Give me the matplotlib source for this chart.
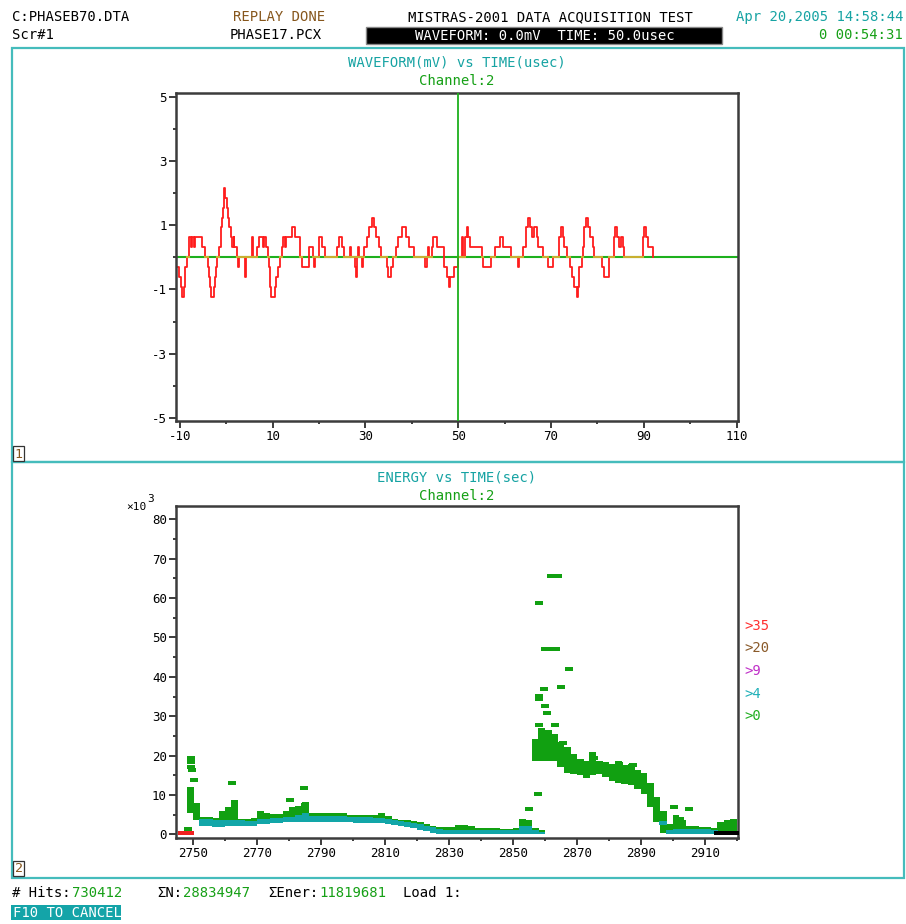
import numpy as np
import matplotlib
matplotlib.use("Agg")
import matplotlib.pyplot as plt
from matplotlib.patches import Rectangle

W, H = 906, 924
plt.rcParams["font.family"] = ["DejaVu Sans Mono", "DejaVu Sans"]
plt.rcParams["axes.unicode_minus"] = False

# ---- waveform (ch 2): step change points (usec) and ADC level (counts) ----
wave_t = [-10.4, -10.1, -9.8, -9.6, -9.0, -8.85, -8.5, -8.1, -7.9, -7.6, -7.4, -7.0, -6.8,
          -5.3, -4.5, -3.8, -3.6, -3.45, -3.3, -2.7, -2.5, -2.2, -1.9, -1.5, -1.2, -1.0,
          -0.8, -0.7, -0.55, -0.4, -0.2, 0.15, 0.5, 0.7, 1.1, 1.2, 1.6, 1.8, 2.3, 2.5, 2.8,
          4.0, 4.3, 5.5, 5.8, 6.6, 7.0, 7.9, 8.1, 8.6, 9.0, 9.2, 9.4, 9.5, 9.7, 10.45, 10.7,
          11.1, 11.6, 12.1, 12.3, 12.7, 13.0, 14.2, 14.9, 16.0, 16.35, 17.8, 18.7, 18.9,
          19.2, 19.95, 20.7, 21.4, 23.9, 24.3, 25.0, 25.35, 26.6, 27.0, 27.7, 27.9, 28.1,
          28.4, 28.6, 29.3, 29.6, 29.8, 30.4, 30.75, 31.5, 31.8, 32.2, 33.05, 33.3, 34.7,
          34.9, 35.6, 36.0, 36.5, 37.1, 38.0, 38.7, 39.4, 40.5, 42.8, 43.3, 43.5, 43.7,
          44.3, 44.6, 45.5, 47.0, 47.6, 48.0, 48.2, 49.2, 50.0, 50.75, 51.0, 51.5, 51.8,
          52.2, 52.5, 55.2, 55.4, 57.0, 57.9, 59.0, 59.7, 61.3, 62.8, 63.1, 64.0, 64.7,
          65.1, 65.4, 65.9, 66.4, 66.9, 67.3, 68.2, 69.3, 70.5, 71.8, 72.1, 72.5, 72.9,
          73.4, 74.1, 74.5, 75.0, 75.6, 75.9, 76.1, 76.6, 76.9, 77.2, 77.5, 77.9, 78.4,
          79.0, 79.3, 81.0, 81.5, 82.6, 83.5, 83.9, 84.2, 84.7, 85.1, 85.5, 85.8, 89.8,
          90.1, 90.5, 90.9, 92.0]
wave_lvl = [-1, -2, -3, -4, -3, -1, 0, 1, 2, 1, 2, 1, 2,
            1, 0, -1, -2, -3, -4, -3, -2, -1, 0, 1, 2, 3,
            4, 5, 6, 7, 6, 5, 4, 3, 2, 1, 2, 1, 0, -1, 0,
            -2, 0, 2, 0, 1, 2, 1, 2, 1, 0, -1, -2, -3, -4, -3, -2,
            -1, 0, 1, 2, 1, 2, 3, 2, 0, -1, 1, 0, -1,
            0, 2, 1, 0, 1, 2, 1, 0, 1, 0, -1, -2, 0,
            1, 0, -1, 0, 1, 2, 3, 4, 3, 2, 1, 0, -1,
            -2, -1, 0, 1, 2, 3, 2, 1, 0, -1, 0, 1, 0,
            1, 2, 1, -1, -2, -3, -2, -1, 0, 2, 0, 2, 3,
            2, 1, 0, -1, 0, 1, 2, 1, 0, -1, 0, 1, 3,
            4, 3, 2, 3, 2, 1, 0, -1, 0, 2, 3, 2, 1,
            0, -1, -2, -3, -4, -3, -1, 0, 1, 3, 4, 3, 2,
            1, 0, -1, -2, 0, 2, 3, 2, 1, 2, 1, 0, 2,
            3, 2, 1, 0]
mv_per_count = 0.31
cursor_usec = 50.0

# ---- energy vs time: band of hits near the floor (sec, x1000 energy) ----
low_t = [2749, 2751, 2753, 2755, 2757, 2759, 2761, 2763, 2765, 2767, 2769, 2771, 2773,
         2775, 2777, 2779, 2781, 2783, 2785, 2787, 2789, 2791, 2793, 2795, 2797, 2799,
         2801, 2803, 2805, 2807, 2809, 2811, 2813, 2815, 2817, 2819, 2821, 2823, 2825,
         2827, 2829, 2831, 2833, 2835, 2837, 2839, 2841, 2843, 2845, 2847, 2849, 2851,
         2853, 2855, 2857, 2859, 2899, 2901, 2903, 2905, 2907, 2909, 2911, 2913, 2915,
         2917, 2919]
grn_lo = [5.5, 3.5, 2.1, 2.0, 1.9, 1.9, 2.0, 2.0, 2.0, 2.0, 2.1, 2.5, 2.6,
          2.8, 2.8, 3.0, 3.0, 3.2, 3.2, 3.2, 3.2, 3.2, 3.2, 3.2, 3.2, 3.0,
          2.9, 2.9, 2.8, 2.8, 2.8, 2.7, 2.4, 2.1, 1.9, 1.5, 1.2, 0.8, 0.3,
          0.0, 0.0, 0.0, 0.0, 0.0, 0.0, 0.0, 0.0, 0.0, 0.0, 0.0, 0.0, 0.0,
          0.0, 0.0, 0.0, 0.0, 0.0, 0.0, 0.0, 0.0, 0.0, 0.0, 0.0, 0.0, 0.5,
          0.5, 0.5]
grn_hi = [12.0, 8.0, 4.5, 4.3, 4.1, 6.0, 7.0, 8.7, 4.0, 3.9, 4.2, 6.0, 5.4,
          5.2, 5.2, 5.8, 7.0, 7.2, 8.2, 5.3, 5.3, 5.3, 5.5, 5.5, 5.5, 4.9,
          4.9, 4.9, 4.9, 4.9, 5.3, 4.6, 3.9, 3.7, 3.6, 3.3, 3.1, 2.6, 2.2,
          1.8, 1.8, 1.8, 2.4, 2.4, 2.0, 1.5, 1.6, 1.5, 1.6, 1.4, 1.4, 1.6,
          3.9, 3.6, 1.5, 1.0, 2.7, 4.8, 3.5, 2.0, 2.0, 1.9, 1.9, 1.6, 3.0,
          3.6, 3.8]
teal_lo = [0.0, 0.0, 2.1, 2.0, 1.9, 1.9, 2.0, 2.0, 2.0, 2.0, 2.1, 2.5, 2.6,
           2.8, 2.8, 3.0, 3.0, 3.2, 3.2, 3.2, 3.2, 3.2, 3.2, 3.2, 3.2, 3.0,
           2.9, 2.9, 2.8, 2.8, 2.8, 2.7, 2.4, 2.1, 1.9, 1.5, 1.2, 0.8, 0.3,
           0.0, 0.0, 0.0, 0.0, 0.0, 0.0, 0.0, 0.0, 0.0, 0.0, 0.0, 0.0, 0.0,
           0.0, 0.0, 0.0, 0.0, 0.0, 0.0, 0.0, 0.0, 0.0, 0.0, 0.0, 0.0, 0.0,
           0.0, 0.0]
teal_hi = [0.0, 0.0, 3.9, 3.8, 3.6, 3.6, 3.6, 3.6, 3.5, 3.4, 3.4, 3.8, 3.9,
           4.1, 4.1, 4.3, 4.4, 5.0, 5.3, 4.6, 4.6, 4.6, 4.6, 4.6, 4.6, 4.3,
           4.3, 4.3, 4.3, 4.2, 4.2, 4.0, 3.5, 3.3, 3.2, 2.8, 2.6, 2.2, 1.8,
           1.3, 1.2, 1.1, 1.1, 1.1, 1.1, 1.1, 1.0, 1.0, 1.0, 1.0, 1.0, 1.0,
           2.2, 2.0, 1.0, 0.6, 1.0, 1.4, 1.4, 1.4, 1.4, 1.4, 1.4, 1.0, 0.0,
           0.0, 0.0]

# burst after ~2856 s
burst_t = [2857, 2859, 2861, 2863, 2865, 2867, 2869, 2871, 2873, 2875, 2877, 2879,
           2881, 2883, 2885, 2887, 2889, 2891, 2893, 2895, 2897]
burst_lo = [18.7, 18.7, 18.7, 18.7, 17.0, 15.5, 15.3, 15.0, 14.2, 15.0, 15.3, 14.5,
            13.5, 13.0, 12.8, 12.4, 11.5, 10.3, 6.9, 3.0, 0.2]
burst_hi = [24.2, 27.1, 26.5, 25.5, 23.5, 22.1, 20.5, 19.1, 18.5, 20.8, 18.5, 18.3,
            17.8, 18.7, 17.5, 17.9, 16.2, 15.5, 13.0, 9.5, 6.0]

# isolated hits
hit_t = [2749.3, 2749.3, 2749.3, 2749.6, 2750.3, 2748.5, 2762.2, 2780.3, 2784.6, 2785.0,
         2855.0, 2857.8, 2858.0, 2862.0, 2864.0, 2860.0, 2861.8, 2863.6, 2867.5, 2865.0,
         2859.7, 2858.0, 2858.0, 2860.0, 2860.6, 2858.0, 2863.0, 2865.8, 2875.3, 2883.2,
         2887.5, 2900.5, 2905.0, 2902.3]
hit_e = [19.5, 18.3, 17.0, 16.2, 13.8, 1.4, 13.0, 8.8, 11.7, 7.5,
         6.3, 10.2, 58.7, 65.5, 65.5, 47.0, 47.0, 47.0, 41.9, 37.5,
         37.0, 35.2, 34.3, 32.7, 30.7, 27.8, 27.8, 23.3, 19.5, 17.8,
         17.5, 6.8, 6.3, 3.8]
teal_hit_t = [2897.0]
teal_hit_e = [2.9]
red_hit_t = [2746.4, 2748.9]
red_hit_e = [0.3, 0.3]
blk_hit_t = [2914.3, 2916.3, 2918.3, 2920.0]
blk_hit_e = [0.3, 0.3, 0.3, 0.3]

legend_labels = [">35", ">20", ">9", ">4", ">0"]
legend_colors = ["#ff3030", "#8a5a2a", "#c030c8", "#20b0b8", "#22b022"]

TEAL = "#16a3a3"
GREEN = "#16a016"
HIT_GREEN = "#11a011"
HIT_TEAL = "#12a6a8"
BROWN = "#86561c"
FRAME = "#45bcbc"
AXC = "#3c3c3c"
RED = "#ff1c1c"

fig = plt.figure(figsize=(W / 100, H / 100), dpi=100)


def ftext(x, y, s, **kw):
    kw.setdefault("fontsize", 10)
    kw.setdefault("va", "center")
    return fig.text(x / W, 1 - y / H, s, **kw)


def frect(x0, y0, x1, y1, **kw):
    r = Rectangle((x0 / W, 1 - y1 / H), (x1 - x0) / W, (y1 - y0) / H,
                  transform=fig.transFigure, **kw)
    fig.add_artist(r)
    return r


# header
ftext(12, 17, "C:PHASEB70.DTA")
ftext(12, 35, "Scr#1")
ftext(233, 17, "REPLAY DONE", color=BROWN)
ftext(230, 35, "PHASE17.PCX")
ftext(408, 17, "MISTRAS-2001 DATA ACQUISITION TEST")
frect(366, 27, 722, 44, facecolor="black", edgecolor="#888888", lw=1)
ftext(545, 35.5, "WAVEFORM: 0.0mV  TIME: 50.0usec", color="white", ha="center")
ftext(903, 17, "Apr 20,2005 14:58:44", color=TEAL, ha="right")
ftext(903, 35, "0 00:54:31", color=GREEN, ha="right")

# panel frames
frect(12, 48, 904, 462, fill=False, edgecolor=FRAME, lw=1.6)
frect(12, 462, 904, 878, fill=False, edgecolor=FRAME, lw=1.6)
for num, ytop in (("1", 446), ("2", 861)):
    frect(13, ytop, 24, ytop + 15, facecolor="white", edgecolor="#333333", lw=0.9)
    ftext(18.5, ytop + 8, num, color=BROWN, ha="center", fontsize=9.5)

ftext(457, 62, "WAVEFORM(mV) vs TIME(usec)", color=TEAL, ha="center")
ftext(457, 81, "Channel:2", color=GREEN, ha="center")
ftext(457, 477, "ENERGY vs TIME(sec)", color=TEAL, ha="center")
ftext(457, 496, "Channel:2", color=GREEN, ha="center")


def style_axes(ax):
    for sp in ax.spines.values():
        sp.set_color(AXC)
        sp.set_linewidth(1.8)
    ax.tick_params(which="major", direction="out", length=5, width=1.4, color=AXC,
                   labelsize=9, pad=1.5, top=False, right=False)
    ax.tick_params(which="minor", direction="out", length=2.5, width=1.4, color=AXC,
                   top=False, right=False)


# ---- waveform axes ----
ax1 = fig.add_axes([176 / W, 1 - 421 / H, 562 / W, 328 / H])
style_axes(ax1)
wt = np.array(wave_t)
wv = np.array(wave_lvl) * mv_per_count
ax1.axhline(0, color="#1db01d", lw=1.5, zorder=1)
ax1.step(wt, wv, where="post", color=RED, lw=1.3, zorder=2)
ax1.step(wt, np.where(np.array(wave_lvl) == 0, 0.0, np.nan), where="post",
         color="#c8b030", lw=1.5, zorder=3)
ax1.axvline(cursor_usec, color="#1db01d", lw=1.3, zorder=4)
ax1.set_xlim(-10.8, 110.3)
ax1.set_ylim(-5.1, 5.12)
ax1.set_xticks(range(-10, 111, 20))
ax1.set_xticklabels([str(v) for v in range(-10, 111, 20)])
ax1.set_xticks(range(0, 101, 20), minor=True)
ax1.set_yticks(range(-5, 6, 2))
ax1.set_yticklabels([str(v) for v in range(-5, 6, 2)])
ax1.set_yticks(range(-4, 5, 2), minor=True)

# ---- energy axes ----
ax2 = fig.add_axes([176 / W, 1 - 838 / H, 562 / W, 332 / H])
style_axes(ax2)
bw = 2.15
lt = np.array(low_t, dtype=float)
ax2.bar(lt, np.array(grn_hi) - np.array(grn_lo), bottom=grn_lo, width=bw,
        color=HIT_GREEN, lw=0, zorder=2)
ax2.bar(lt, np.array(teal_hi) - np.array(teal_lo), bottom=teal_lo, width=bw,
        color=HIT_TEAL, lw=0, zorder=3)
ax2.bar(burst_t, np.array(burst_hi) - np.array(burst_lo), bottom=burst_lo, width=bw,
        color=HIT_GREEN, lw=0, zorder=2)
rect_marker = [(-1, -0.55), (1, -0.55), (1, 0.55), (-1, 0.55)]
msize = 32
ax2.scatter(hit_t, hit_e, marker=rect_marker, s=msize, color=HIT_GREEN, lw=0, zorder=4)
ax2.scatter(teal_hit_t, teal_hit_e, marker=rect_marker, s=msize, color=HIT_TEAL, lw=0,
            zorder=4)
ax2.scatter(red_hit_t, red_hit_e, marker=rect_marker, s=msize, color="#f02020", lw=0,
            zorder=4)
ax2.scatter(blk_hit_t, blk_hit_e, marker=rect_marker, s=msize, color="black", lw=0,
            zorder=4)
ax2.set_xlim(2744.6, 2920.4)
ax2.set_ylim(-0.95, 83.4)
ax2.set_xticks(range(2750, 2911, 20))
ax2.set_xticklabels([str(v) for v in range(2750, 2911, 20)])
ax2.set_xticks(range(2760, 2921, 20), minor=True)
ax2.set_yticks(range(0, 81, 10))
ax2.set_yticklabels([str(v) for v in range(0, 81, 10)])
ax2.set_yticks(range(5, 80, 10), minor=True)

ftext(126, 507, "\u00d710", fontsize=8)
ftext(147, 499, "3", fontsize=8)

for i, (lab, col) in enumerate(zip(legend_labels, legend_colors)):
    ftext(744, 626 + i * 22.5, lab, color=col, fontsize=10)

# footer
ftext(12, 893, "# Hits:")
ftext(72, 893, "730412", color=GREEN)
ftext(157, 893, "\u03a3N:")
ftext(183, 893, "28834947", color=GREEN)
ftext(268, 893, "\u03a3Ener:")
ftext(319, 893, "11819681", color=GREEN)
ftext(403, 893, "Load 1:")
frect(11, 905, 121, 920, facecolor="#14a4a8", edgecolor="none")
ftext(13, 913, "F10 TO CANCEL", color="white")

fig.savefig("out.png", dpi=100)
